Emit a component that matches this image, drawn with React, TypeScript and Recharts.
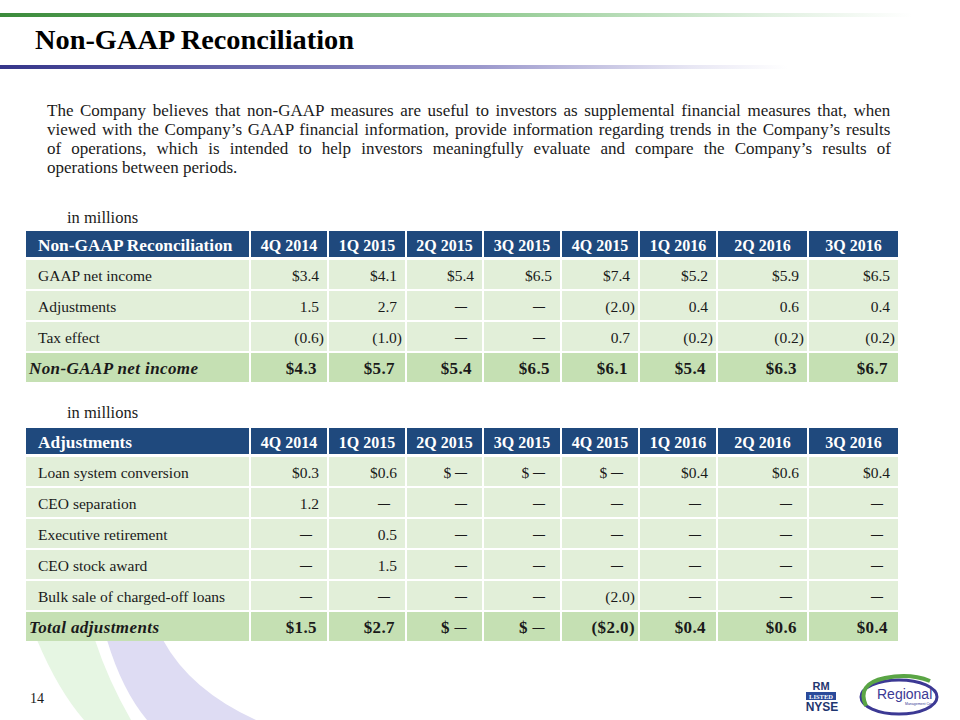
import React from 'react';
import { ScatterChart, Scatter, XAxis, YAxis, Customized } from 'recharts';

// ---------- data ----------
const QUARTERS = ['4Q 2014', '1Q 2015', '2Q 2015', '3Q 2015', '4Q 2015', '1Q 2016', '2Q 2016', '3Q 2016'];

const RECON_TITLE = 'Non-GAAP Reconciliation';
const RECON_LABELS = ['GAAP net income', 'Adjustments', 'Tax effect', 'Non-GAAP net income'];
const GAAP_NET_INCOME = [3.4, 4.1, 5.4, 6.5, 7.4, 5.2, 5.9, 6.5];
const ADJUSTMENTS = [1.5, 2.7, null, null, -2.0, 0.4, 0.6, 0.4];
const TAX_EFFECT = [-0.6, -1.0, null, null, 0.7, -0.2, -0.2, -0.2];
const NON_GAAP_NET_INCOME = [4.3, 5.7, 5.4, 6.5, 6.1, 5.4, 6.3, 6.7];
const RECON_DOLLAR = [true, false, false, true];

const ADJ_TITLE = 'Adjustments';
const ADJ_LABELS = ['Loan system conversion', 'CEO separation', 'Executive retirement', 'CEO stock award', 'Bulk sale of charged-off loans', 'Total adjustments'];
const LOAN_SYSTEM_CONVERSION = [0.3, 0.6, null, null, null, 0.4, 0.6, 0.4];
const CEO_SEPARATION = [1.2, null, null, null, null, null, null, null];
const EXECUTIVE_RETIREMENT = [null, 0.5, null, null, null, null, null, null];
const CEO_STOCK_AWARD = [null, 1.5, null, null, null, null, null, null];
const BULK_SALE_CHARGED_OFF = [null, null, null, null, -2.0, null, null, null];
const TOTAL_ADJUSTMENTS = [1.5, 2.7, null, null, -2.0, 0.4, 0.6, 0.4];
const ADJ_DOLLAR = [true, false, false, false, false, true];

const PARAGRAPH_LINES = [
  'The Company believes that non-GAAP measures are useful to investors as supplemental financial measures that, when',
  'viewed with the Company\u2019s GAAP financial information, provide information regarding trends in the Company\u2019s results',
  'of operations, which is intended to help investors meaningfully evaluate and compare the Company\u2019s results of',
  'operations between periods.',
];

// ---------- layout / style ----------
const FONT = "'Liberation Serif', 'Times New Roman', serif";
const SANS = "'Liberation Sans', Arial, sans-serif";
const COL_WIDTHS = [78, 78, 77, 78, 78, 78, 91, 91];
const LABEL_W = 224;
const LEFT = 26;
const HEADER_H = 28;
const ROW_H = 31;
const HEADER_FILL = '#1F497D';
const BODY_FILL = '#E2EFD9';
const TOTAL_FILL = '#C5E0B3';
const TEXT = '#1a1a1a';
const DASH = '\u2014';

const COL_CENTERS = COL_WIDTHS.map((w, i) => COL_WIDTHS.slice(0, i).reduce((a, b) => a + b, 0) + w / 2);
const TOTAL_W = COL_WIDTHS.reduce((a, b) => a + b, 0);

function fmt(v: number | null, dollar: boolean): string {
  if (v === null) return dollar ? '$ ' : '';
  const a = Math.abs(v).toFixed(1);
  if (v < 0) return dollar ? `($${a})` : `(${a})`;
  return dollar ? `$${a}` : a;
}

type Cell = { x: number; y: number; col: number; row: number; text: string; kind: 'neg' | 'pos' | 'nil'; total: boolean };

function buildCells(series: (number | null)[][], dollar: boolean[]): Cell[] {
  const out: Cell[] = [];
  const n = series.length;
  series.forEach((vals, r) => {
    vals.forEach((v, c) => {
      out.push({
        x: COL_CENTERS[c],
        y: r + 0.5,
        col: c,
        row: r,
        text: fmt(v, dollar[r]),
        kind: v === null ? 'nil' : v < 0 ? 'neg' : 'pos',
        total: r === n - 1,
      });
    });
  });
  return out;
}

function Table({ title, labels, series, dollar }: { title: string; labels: string[]; series: (number | null)[][]; dollar: boolean[] }) {
  const n = labels.length;
  const data = buildCells(series, dollar);
  const height = HEADER_H + ROW_H * n;

  const HeaderTick = (props: any) => {
    const { x, index } = props;
    const w = COL_WIDTHS[index];
    return (
      <g>
        <rect x={x - w / 2 + 1} y={0} width={w - 2} height={HEADER_H - 2} fill={HEADER_FILL} />
        <text x={x} y={19.5} textAnchor="middle" fill="#fff" fontFamily={FONT} fontWeight="bold" fontSize={16}>
          {QUARTERS[index]}
        </text>
      </g>
    );
  };

  const RowTick = (props: any) => {
    const { y, payload } = props;
    const r = Math.floor(payload.value);
    const total = r === n - 1;
    return (
      <g>
        <rect x={LEFT} y={y - ROW_H / 2 + 1} width={LABEL_W - 1} height={ROW_H - 2} fill={total ? TOTAL_FILL : BODY_FILL} />
        <text
          x={total ? 29 : 38}
          y={y + 6}
          textAnchor="start"
          fill={TEXT}
          fontFamily={FONT}
          fontSize={total ? 17 : 15.5}
          fontWeight={total ? 'bold' : 'normal'}
          fontStyle={total ? 'italic' : 'normal'}
          letterSpacing={total ? 0.4 : 0}
        >
          {labels[r]}
        </text>
      </g>
    );
  };

  const CellShape = (props: any) => {
    const { cx, cy, payload } = props;
    const w = COL_WIDTHS[payload.col];
    const right = cx + w / 2;
    const pad = payload.kind === 'neg' ? 4 : payload.kind === 'nil' ? 16 : payload.total ? 11 : 9;
    return (
      <g>
        <rect x={cx - w / 2 + 1} y={cy - ROW_H / 2 + 1} width={w - 2} height={ROW_H - 2} fill={payload.total ? TOTAL_FILL : BODY_FILL} />
        <text
          x={right - pad}
          y={cy + 6}
          textAnchor="end"
          fill={TEXT}
          fontFamily={FONT}
          fontSize={payload.total ? 17 : 15.5}
          fontWeight={payload.total ? 'bold' : 'normal'}
          letterSpacing={payload.total ? 0.4 : 0}
        >
          {payload.text}
          {payload.kind === 'nil' ? <tspan fontSize={12} fontWeight="bold" dy={-1.5}>{DASH}</tspan> : null}
        </text>
      </g>
    );
  };

  const Corner = () => (
    <g>
      <rect x={LEFT} y={0} width={LABEL_W - 1} height={HEADER_H - 2} fill={HEADER_FILL} />
      <text x={38} y={19.5} fill="#fff" fontFamily={FONT} fontWeight="bold" fontSize={17.3}>
        {title}
      </text>
    </g>
  );

  return (
    <ScatterChart width={960} height={height} margin={{ top: 0, right: 960 - LEFT - LABEL_W - TOTAL_W, bottom: 0, left: LEFT }}>
      <XAxis
        type="number"
        dataKey="x"
        orientation="top"
        domain={[0, TOTAL_W]}
        allowDataOverflow
        ticks={COL_CENTERS}
        interval={0}
        height={HEADER_H}
        axisLine={false}
        tickLine={false}
        tick={<HeaderTick />}
      />
      <YAxis
        type="number"
        dataKey="y"
        domain={[0, n]}
        reversed
        allowDataOverflow
        ticks={labels.map((_, i) => i + 0.5)}
        interval={0}
        width={LABEL_W}
        axisLine={false}
        tickLine={false}
        tick={<RowTick />}
      />
      <Customized component={Corner} />
      <Scatter data={data} shape={<CellShape />} isAnimationActive={false} />
    </ScatterChart>
  );
}

function measure(text: string, font: string): number {
  if (typeof document === 'undefined') return 0;
  const c = document.createElement('canvas');
  const ctx = c.getContext('2d');
  if (!ctx) return 0;
  ctx.font = font;
  return ctx.measureText(text).width;
}

function Paragraph() {
  const size = 17;
  const width = 844;
  const fontStr = `${size}px "Liberation Serif"`;
  return (
    <g>
      {PARAGRAPH_LINES.map((line, i) => {
        const last = i === PARAGRAPH_LINES.length - 1;
        const spaces = (line.match(/ /g) || []).length;
        const w = measure(line, fontStr);
        const ws = !last && spaces > 0 && w > 0 ? (width - w) / spaces : 0;
        return (
          <text key={i} x={47} y={116 + i * 19} fontFamily={FONT} fontSize={size} fill={TEXT} style={{ wordSpacing: `${ws}px` }}>
            {line}
          </text>
        );
      })}
    </g>
  );
}

function Background() {
  return (
    <svg width={960} height={720} style={{ position: 'absolute', left: 0, top: 0 }}>
      <defs>
        <linearGradient id="gline" x1="0" x2="1" y1="0" y2="0">
          <stop offset="0" stopColor="#3b8b3b" />
          <stop offset="0.5" stopColor="#8fc98f" />
          <stop offset="0.8" stopColor="#e0f0e0" />
          <stop offset="0.95" stopColor="#ffffff" />
        </linearGradient>
        <linearGradient id="pline" x1="0" x2="1" y1="0" y2="0">
          <stop offset="0" stopColor="#35358a" />
          <stop offset="0.5" stopColor="#9b98cc" />
          <stop offset="0.72" stopColor="#e8e7f4" />
          <stop offset="0.82" stopColor="#ffffff" />
        </linearGradient>
      </defs>
      <rect x={0} y={0} width={960} height={720} fill="#fff" />
      <rect x={0} y={13} width={960} height={4} fill="url(#gline)" />
      <rect x={0} y={65} width={960} height={4} fill="url(#pline)" />
      <path d="M37,640 Q58,690 84,720 L131,720 Q108,680 95,640 Z" fill="#e6f6e3" />
      <path d="M107,640 Q122,690 147,720 L256,720 Q190,690 163,640 Z" fill="#dedcf3" />
      <text x={35} y={49} fontFamily={FONT} fontWeight="bold" fontSize={27} textLength={319} lengthAdjust="spacingAndGlyphs" fill="#000">Non-GAAP Reconciliation</text>
      <Paragraph />
      <text x={67} y={223} fontFamily={FONT} fontSize={16.5} fill={TEXT}>in millions</text>
      <text x={67} y={418} fontFamily={FONT} fontSize={16.5} fill={TEXT}>in millions</text>
      <text x={30} y={703} fontFamily={FONT} fontSize={14} fill={TEXT}>14</text>
      {/* NYSE logo */}
      <text x={821} y={690} textAnchor="middle" fontFamily={SANS} fontWeight="bold" fontSize={11} fill="#1f3670">RM</text>
      <rect x={806} y={692} width={30} height={8} fill="#2a4a9a" />
      <text x={821} y={698.5} textAnchor="middle" fontFamily={FONT} fontWeight="bold" fontSize={6.5} fill="#fff">LISTED</text>
      <text x={822} y={711} textAnchor="middle" fontFamily={SANS} fontWeight="bold" fontSize={12} fill="#1f3670">NYSE</text>
      {/* Regional logo */}
      <ellipse cx={899} cy={697} rx={38} ry={17} fill="none" stroke="#3c3994" strokeWidth={3} />
      <path d="M866,706 Q856,684 885,678 Q910,673 930,681" fill="none" stroke="#5aa545" strokeWidth={4} />
      <text x={877} y={699} fontFamily={SANS} fontSize={14} fill="#3c3994">Regional</text>
      <text x={905} y={705} fontFamily={SANS} fontSize={3.5} fill="#3c3994">Management Corp.</text>
    </svg>
  );
}

export default function App() {
  return (
    <div style={{ position: 'absolute', left: 0, top: 0, width: 960, height: 720, background: '#fff', overflow: 'hidden' }}>
      <Background />
      <div style={{ position: 'absolute', left: 0, top: 231 }}>
        <Table
          title={RECON_TITLE}
          labels={RECON_LABELS}
          series={[GAAP_NET_INCOME, ADJUSTMENTS, TAX_EFFECT, NON_GAAP_NET_INCOME]}
          dollar={RECON_DOLLAR}
        />
      </div>
      <div style={{ position: 'absolute', left: 0, top: 428 }}>
        <Table
          title={ADJ_TITLE}
          labels={ADJ_LABELS}
          series={[LOAN_SYSTEM_CONVERSION, CEO_SEPARATION, EXECUTIVE_RETIREMENT, CEO_STOCK_AWARD, BULK_SALE_CHARGED_OFF, TOTAL_ADJUSTMENTS]}
          dollar={ADJ_DOLLAR}
        />
      </div>
    </div>
  );
}
